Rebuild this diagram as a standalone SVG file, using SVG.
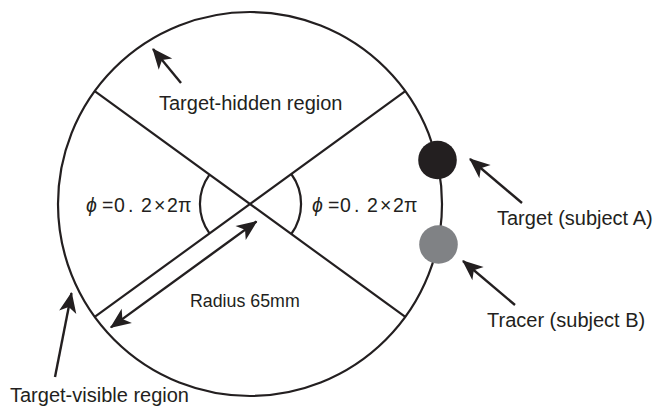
<svg xmlns="http://www.w3.org/2000/svg" width="661" height="407" viewBox="0 0 661 407">
<defs>
<style>
.ln{fill:none;stroke:#231f20;stroke-width:2.2}
.ar{fill:none;stroke:#231f20;stroke-width:2.4}
.t{font-family:"Liberation Sans",Arial,sans-serif;font-size:20px;fill:#231f20}
.r{font-family:"Liberation Sans",Arial,sans-serif;font-size:17.8px;fill:#231f20}
.p{font-family:"Liberation Sans","DejaVu Sans",sans-serif;font-size:19.5px;fill:#231f20}
</style>
<marker id="ah" markerUnits="userSpaceOnUse" markerWidth="24" markerHeight="24" viewBox="-20 -10 22 20" refX="0" refY="0" orient="auto-start-reverse">
<path d="M1,0 L-18,-8 L-13,0 L-18,8 Z" fill="#231f20"/>
</marker>
</defs>
<rect width="661" height="407" fill="#fff"/>
<g id="arena">
<circle class="ln" cx="250" cy="204" r="192"/>
<line class="ln" x1="94.7" y1="91.1" x2="405.3" y2="316.9"/>
<line class="ln" x1="94.7" y1="316.9" x2="405.3" y2="91.1"/>
<path class="ln" d="M209.5,174.6 A50,50 0 0 0 209.5,233.4"/>
<path class="ln" d="M291.3,174 A51,51 0 0 1 291.3,234"/>
</g>
<g id="target">
<circle cx="437.5" cy="160" r="19.3" fill="#231f20"/>
</g>
<g id="tracer">
<circle cx="438.5" cy="244.5" r="19.3" fill="#808285"/>
</g>
<g id="connectors">
<line class="ar" x1="181" y1="83" x2="153" y2="49" marker-end="url(#ah)"/>
<line class="ar" x1="522" y1="203" x2="470" y2="159" marker-end="url(#ah)"/>
<line class="ar" x1="515" y1="305" x2="463" y2="261" marker-end="url(#ah)"/>
<line class="ar" x1="55" y1="377" x2="71.5" y2="293" marker-end="url(#ah)"/>
<line class="ar" x1="256.5" y1="221.5" x2="110.9" y2="327.4" marker-start="url(#ah)" marker-end="url(#ah)"/>
</g>
<g id="labels">
<text class="t" x="159" y="110">Target-hidden region</text>
<text class="t" x="497" y="225">Target (subject A)</text>
<text class="t" x="487" y="327">Tracer (subject B)</text>
<text class="t" x="10" y="402">Target-visible region</text>
<text class="r" x="190" y="307">Radius 65mm</text>
<text class="p" x="86" y="212"><tspan font-style="italic">ϕ</tspan><tspan x="102 114 128 141 154 167 178">=0.2×2π</tspan></text>
<text class="p" x="312" y="212"><tspan font-style="italic">ϕ</tspan><tspan x="328 340 354 367 380 393 404">=0.2×2π</tspan></text>
</g>
</svg>
